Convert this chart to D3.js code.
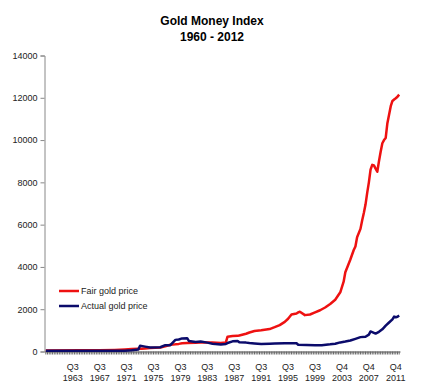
<!DOCTYPE html>
<html>
<head>
<meta charset="utf-8">
<script src="https://cdn.jsdelivr.net/npm/d3@7"></script>
<style>
  html, body { margin: 0; padding: 0; background: #fff; }
  svg { display: block; font-family: "Liberation Sans", Arial, sans-serif; }
</style>
</head>
<body>
<svg id="chart" width="425" height="390"></svg>
<script>
// ---- Data ----
const titleLines = ["Gold Money Index", "1960 - 2012"];
const seriesNames = ["Fair gold price", "Actual gold price"];
const seriesColors = ["#ee1111", "#0b0b6b"];

// Quarterly categories on the axis (first, last, and one quarter missing in the source)
const firstQuarter = [1959, 3];
const lastQuarter = [2012, 2];
const missingQuarters = ["2001 Q1"];

const xTickLabels = ["Q3 1963", "Q3 1967", "Q3 1971", "Q3 1975", "Q3 1979", "Q3 1983",
  "Q3 1987", "Q3 1991", "Q3 1995", "Q3 1999", "Q4 2003", "Q4 2007", "Q4 2011"];
const yTicks = [0, 2000, 4000, 6000, 8000, 10000, 12000, 14000];

const fairQuarters = ["1959 Q3","1964 Q3","1967 Q3","1969 Q4","1971 Q2","1972 Q2","1973 Q2","1973 Q4",
  "1974 Q2","1975 Q1","1976 Q3","1977 Q2","1978 Q1","1978 Q4","1979 Q2","1979 Q4","1980 Q3",
  "1981 Q4","1982 Q3","1983 Q3","1984 Q2","1985 Q3","1986 Q2","1986 Q3","1987 Q2","1988 Q1",
  "1988 Q2","1989 Q2","1989 Q4","1990 Q3","1991 Q3","1992 Q4","1993 Q3","1994 Q2","1995 Q1",
  "1995 Q3","1996 Q1","1996 Q4","1997 Q1","1997 Q2","1998 Q1","1998 Q4","1999 Q3","2000 Q2",
  "2001 Q2","2002 Q1","2002 Q4","2003 Q3","2004 Q1","2004 Q2","2005 Q1","2005 Q3","2005 Q4",
  "2006 Q1","2006 Q3","2006 Q4","2007 Q1","2007 Q2","2007 Q3","2007 Q4","2008 Q1","2008 Q2",
  "2008 Q3","2008 Q4","2009 Q1","2009 Q2","2009 Q3","2009 Q4","2010 Q1","2010 Q2","2010 Q3",
  "2010 Q4","2011 Q1","2011 Q2","2011 Q3","2011 Q4","2012 Q1","2012 Q2"];
const fairValues = [50,55,60,75,95,115,125,130,
  145,160,190,250,320,340,360,390,400,
  410,420,420,430,400,430,700,730,740,
  760,840,900,970,1000,1060,1150,1250,1400,
  1550,1750,1800,1850,1880,1720,1750,1850,1950,
  2080,2250,2450,2800,3300,3750,4350,4800,4970,
  5400,5800,6200,6550,6950,7500,8000,8600,8830,
  8800,8650,8500,9000,9450,9850,10000,10100,10800,
  11200,11600,11850,11920,11980,12050,12150];

const actualQuarters = ["1959 Q3","1967 Q3","1969 Q4","1971 Q2","1972 Q2","1973 Q2","1973 Q3","1974 Q2",
  "1975 Q1","1976 Q3","1977 Q2","1978 Q1","1978 Q4","1979 Q2","1979 Q4","1980 Q3","1980 Q4",
  "1981 Q4","1982 Q3","1983 Q3","1984 Q2","1985 Q3","1986 Q2","1986 Q3","1987 Q2","1988 Q1",
  "1988 Q2","1989 Q2","1989 Q4","1990 Q3","1991 Q3","1992 Q4","1993 Q3","1995 Q1","1996 Q4",
  "1997 Q1","1999 Q3","2000 Q3","2002 Q1","2002 Q4","2003 Q3","2004 Q2","2005 Q1","2005 Q4",
  "2006 Q3","2007 Q2","2007 Q4","2008 Q1","2008 Q2","2008 Q4","2009 Q2","2009 Q4","2010 Q2",
  "2010 Q4","2011 Q2","2011 Q3","2011 Q4","2012 Q1","2012 Q2"];
const actualValues = [35,35,36,40,60,100,270,230,
  190,200,300,300,550,570,620,630,500,
  450,470,420,370,330,360,400,480,500,
  440,420,400,380,360,370,380,385,390,
  320,300,300,340,370,430,470,520,600,
  680,700,800,950,920,850,930,1050,1220,
  1370,1520,1650,1620,1640,1700];

// ---- Build categories ----
const categories = [];
for (let yy = firstQuarter[0], q = firstQuarter[1]; ; ) {
  const lab = yy + " Q" + q;
  if (!missingQuarters.includes(lab)) categories.push(lab);
  if (yy === lastQuarter[0] && q === lastQuarter[1]) break;
  q++; if (q > 4) { q = 1; yy++; }
}
const tickCats = xTickLabels.map(s => { const [q, yr] = s.split(" "); return yr + " " + q; });

// ---- Layout ----
const svg = d3.select("#chart");
const mLeft = 45, mRight = 400, mTop = 55.5, mBottom = 351.5;

const x = d3.scaleBand().domain(categories).range([mLeft, mRight]).padding(0);
const xc = d => x(d) + x.bandwidth() / 2;
const y = d3.scaleLinear().domain([0, 14000]).range([mBottom, mTop]);

// Title
svg.append("text").attr("x", 212).attr("y", 25).attr("text-anchor", "middle")
  .attr("font-size", 12).attr("font-weight", "bold").text(titleLines[0]);
svg.append("text").attr("x", 212).attr("y", 41).attr("text-anchor", "middle")
  .attr("font-size", 12).attr("font-weight", "bold").text(titleLines[1]);

// Y axis
const yAxis = svg.append("g").attr("transform", `translate(${mLeft - 0.5},0)`)
  .call(d3.axisLeft(y).tickValues(yTicks).tickSize(4).tickPadding(3).tickFormat(d3.format("d")));
yAxis.select(".domain").attr("stroke", "#888");
yAxis.selectAll(".tick line").attr("stroke", "#888");
yAxis.selectAll(".tick text").attr("font-size", 9).attr("fill", "#222")
  .attr("font-family", "Liberation Sans, Arial, sans-serif");

// X axis (tick every quarter, labels every 16 quarters)
const xAxis = svg.append("g").attr("transform", `translate(0,${mBottom})`)
  .call(d3.axisBottom(x).tickValues(categories).tickSize(3).tickSizeOuter(0).tickFormat(""));
xAxis.select(".domain").attr("stroke", "#555");
xAxis.selectAll(".tick line").attr("stroke", "#666");

const labG = svg.append("g").attr("font-size", 9).attr("fill", "#222").attr("text-anchor", "middle");
xTickLabels.forEach((s, i) => {
  const [q, yr] = s.split(" ");
  const cx = xc(tickCats[i]);
  labG.append("text").attr("x", cx).attr("y", 370).text(q);
  labG.append("text").attr("x", cx).attr("y", 381).text(yr);
});

// Lines
const line = d3.line().x(d => xc(d[0])).y(d => y(d[1]));
const fair = fairQuarters.map((q, i) => [q, fairValues[i]]);
const actual = actualQuarters.map((q, i) => [q, actualValues[i]]);

svg.append("path").datum(fair).attr("d", line).attr("fill", "none")
  .attr("stroke", seriesColors[0]).attr("stroke-width", 2.5).attr("stroke-linejoin", "round");
svg.append("path").datum(actual).attr("d", line).attr("fill", "none")
  .attr("stroke", seriesColors[1]).attr("stroke-width", 2.5).attr("stroke-linejoin", "round");

// Legend
const leg = svg.append("g");
seriesNames.forEach((n, i) => {
  const ly = 291 + i * 15;
  leg.append("line").attr("x1", 59).attr("x2", 79).attr("y1", ly).attr("y2", ly)
    .attr("stroke", seriesColors[i]).attr("stroke-width", 2.5);
  leg.append("text").attr("x", 81).attr("y", ly + 3.2).attr("font-size", 9).attr("fill", "#222").text(n);
});
</script>
</body>
</html>
